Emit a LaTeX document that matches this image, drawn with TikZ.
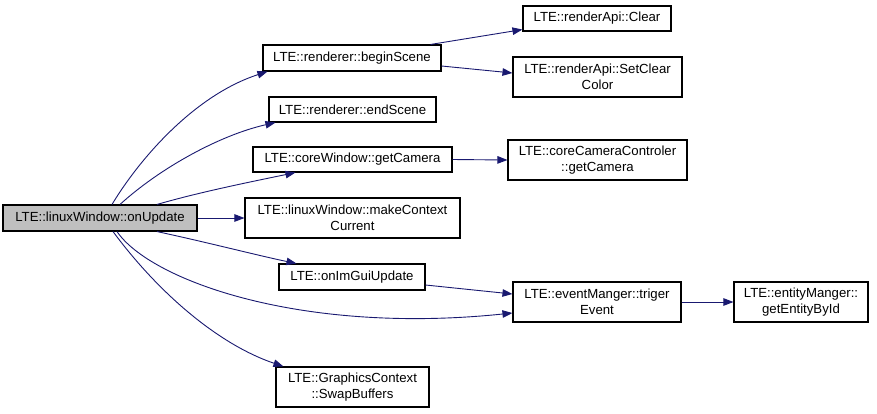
\documentclass[tikz,border=0pt]{standalone}
\usepackage{fontspec}
\setmainfont{Liberation Sans}
\usetikzlibrary{arrows.meta}
\definecolor{edgeblue}{HTML}{191970}
\definecolor{rootgray}{HTML}{BFBFBF}
\begin{document}
\begin{tikzpicture}[x=1pt,y=-1pt,
  box/.style={draw=black, line width=1.1pt, rectangle, inner sep=0pt, align=center,
    font=\fontsize{13.2}{15.5}\selectfont, fill=white},
  edge/.style={draw=edgeblue, line width=0.9pt, -{Triangle[length=10pt,width=7.5pt]}}]
\useasboundingbox (0,0) rectangle (877,413);
\node[box, fill=rootgray, minimum width=194pt, minimum height=26pt] (ou) at (100,218) {LTE::linuxWindow::onUpdate};
\node[box, minimum width=178pt, minimum height=26pt] (bs) at (352,58) {LTE::renderer::beginScene};
\node[box, minimum width=167pt, minimum height=25pt] (es) at (352.5,109.5) {LTE::renderer::endScene};
\node[box, minimum width=148pt, minimum height=25pt] (cl) at (597,18.5) {LTE::renderApi::Clear};
\node[box, minimum width=169pt, minimum height=40pt] (scc) at (597.5,77) {LTE::renderApi::SetClear\\Color};
\node[box, minimum width=199pt, minimum height=25pt] (gc) at (352.5,159.5) {LTE::coreWindow::getCamera};
\node[box, minimum width=179pt, minimum height=40pt] (ccc) at (597.5,160) {LTE::coreCameraControler\\::getCamera};
\node[box, minimum width=215pt, minimum height=40pt] (mcc) at (352.5,218) {LTE::linuxWindow::makeContext\\Current};
\node[box, minimum width=146pt, minimum height=26pt] (ig) at (352,277) {LTE::onImGuiUpdate};
\node[box, minimum width=168pt, minimum height=40pt] (te) at (597,302) {LTE::eventManger::triger\\Event};
\node[box, minimum width=153pt, minimum height=40pt] (sb) at (352.5,387) {LTE::GraphicsContext\\::SwapBuffers};
\node[box, minimum width=134pt, minimum height=40pt] (em) at (801,302) {LTE::entityManger::\\getEntityById};

\draw[edge] ([xshift=12pt]ou.north) .. controls (140,158) and (195,95) .. ([xshift=5pt]bs.south west);
\draw[edge] ([xshift=20pt]ou.north) .. controls (160,168) and (220,135) .. ([xshift=7pt]es.south west);
\draw[edge] ([xshift=57pt]ou.north) .. controls (200,192) and (250,182) .. ([xshift=43pt]gc.south west);
\draw[edge] (ou.east) -- (mcc.west);
\draw[edge] ([xshift=57pt]ou.south) .. controls (210,243) and (260,256) .. ([xshift=18pt]ig.north west);
\draw[edge] ([xshift=17pt]ou.south) .. controls (150,280) and (300,335) .. ([yshift=-11pt]te.west);
\draw[edge] ([xshift=13pt]ou.south) .. controls (160,295) and (220,345) .. ([xshift=8pt]sb.north west);
\draw[edge] ([xshift=-11pt]bs.north east) -- ([yshift=2pt]cl.south west);
\draw[edge] ([yshift=-8pt]bs.east) -- ([yshift=4pt]scc.west);
\draw[edge] (gc.east) -- (ccc.west);
\draw[edge] ([yshift=-8pt]ig.east) -- ([yshift=8pt]te.west);
\draw[edge] (te.east) -- (em.west);
\end{tikzpicture}
\end{document}
